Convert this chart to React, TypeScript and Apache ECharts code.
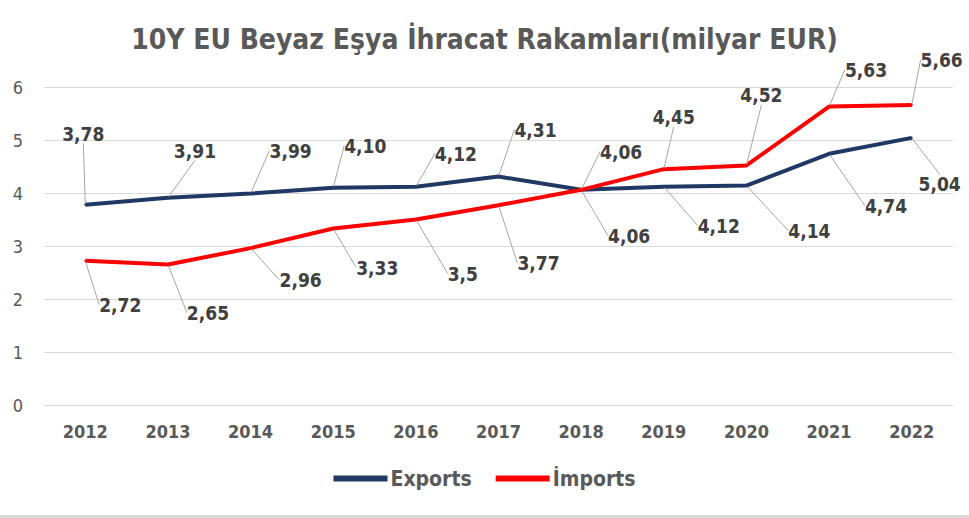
import React, { useEffect, useRef } from "react";
import * as echarts from "echarts";

const years = ["2012", "2013", "2014", "2015", "2016", "2017", "2018", "2019", "2020", "2021", "2022"];
const exportsValues = [3.78, 3.91, 3.99, 4.1, 4.12, 4.31, 4.06, 4.12, 4.14, 4.74, 5.04];
const importsValues = [2.72, 2.65, 2.96, 3.33, 3.5, 3.77, 4.06, 4.45, 4.52, 5.63, 5.66];
const yTicks = [0, 1, 2, 3, 4, 5, 6];

// label offsets (label centre relative to point), styling only
const exportsOffsets: [number, number][] = [
  [-2, -71], [27, -47], [40, -43], [32, -42], [40, -33], [37, -47],
  [48, 46], [55, 39], [63, 45], [57, 52], [28, 46],
];
const importsOffsets: [number, number][] = [
  [35, 44], [40, 48], [50, 32], [44, 39], [47, 54], [40, 58],
  [40, -38], [10, -52], [15, -70], [37, -37], [30, -45],
];

const FONT = "'DejaVu Sans Condensed', 'Open Sans', sans-serif";

export default function App() {
  const ref = useRef<HTMLDivElement>(null);
  useEffect(() => {
    if (!ref.current) return;
    const chart = echarts.init(ref.current, null, { renderer: "svg" });
    const labelCommon = {
      show: true,
      position: "inside",
      fontFamily: FONT,
      fontSize: 19,
      fontWeight: "bold",
      color: "#404040",
    };
    const offsets = [exportsOffsets, importsOffsets];
    chart.setOption({
      animation: false,
      backgroundColor: "#ffffff",
      title: {
        text: "10Y EU Beyaz Eşya İhracat Rakamları(milyar EUR)",
        left: "center",
        top: 20,
        textStyle: { fontFamily: FONT, fontSize: 28, fontWeight: "bold", color: "#595959" },
      },
      grid: { left: 44, right: 16, top: 87, bottom: 113 },
      legend: {
        bottom: 24,
        left: "center",
        icon: "rect",
        itemWidth: 54,
        itemHeight: 6,
        itemGap: 24,
        textStyle: { fontFamily: FONT, fontSize: 21, fontWeight: "bold", color: "#595959", padding: [0, 0, 0, -2] },
        data: ["Exports", "İmports"],
      },
      xAxis: {
        type: "category",
        data: years,
        boundaryGap: true,
        axisLine: { show: true, lineStyle: { color: "#d9d9d9", width: 1 } },
        axisTick: { show: false },
        axisLabel: { fontFamily: FONT, fontSize: 18, fontWeight: "bold", color: "#595959", margin: 17 },
      },
      yAxis: {
        type: "value",
        min: yTicks[0],
        max: yTicks[yTicks.length - 1],
        interval: 1,
        axisLine: { show: false },
        axisTick: { show: false },
        splitLine: { lineStyle: { color: "#d9d9d9", width: 1 } },
        axisLabel: { fontFamily: FONT, fontSize: 18, color: "#595959", margin: 21 },
      },
      labelLayout: (params: any) => {
        const o = offsets[params.seriesIndex]?.[params.dataIndex] || [0, 0];
        return { dx: o[0], dy: o[1] };
      },
      series: [
        {
          name: "Exports",
          type: "line",
          data: exportsValues,
          symbol: "circle",
          symbolSize: 2,
          showSymbol: true,
          lineStyle: { color: "#203864", width: 4 },
          itemStyle: { color: "#203864" },
          label: { ...labelCommon, formatter: (p: any) => p.value.toFixed(2).replace(".", ",") },
          labelLine: { show: true, lineStyle: { color: "#a6a6a6", width: 1 } },
          z: 3,
        },
        {
          name: "İmports",
          type: "line",
          data: importsValues,
          symbol: "circle",
          symbolSize: 2,
          showSymbol: true,
          lineStyle: { color: "#ff0000", width: 4 },
          itemStyle: { color: "#ff0000" },
          label: { ...labelCommon, formatter: (p: any) => String(p.value).replace(".", ",") },
          labelLine: { show: true, lineStyle: { color: "#a6a6a6", width: 1 } },
          z: 4,
        },
      ],
      graphic: [
        {
          type: "rect",
          left: 0,
          bottom: 0,
          shape: { width: 969, height: 3 },
          style: { fill: "#d9d9d9" },
        },
      ],
    });
    return () => chart.dispose();
  }, []);
  return <div ref={ref} style={{ width: 969, height: 518, position: "absolute", left: 0, top: 0 }} />;
}
